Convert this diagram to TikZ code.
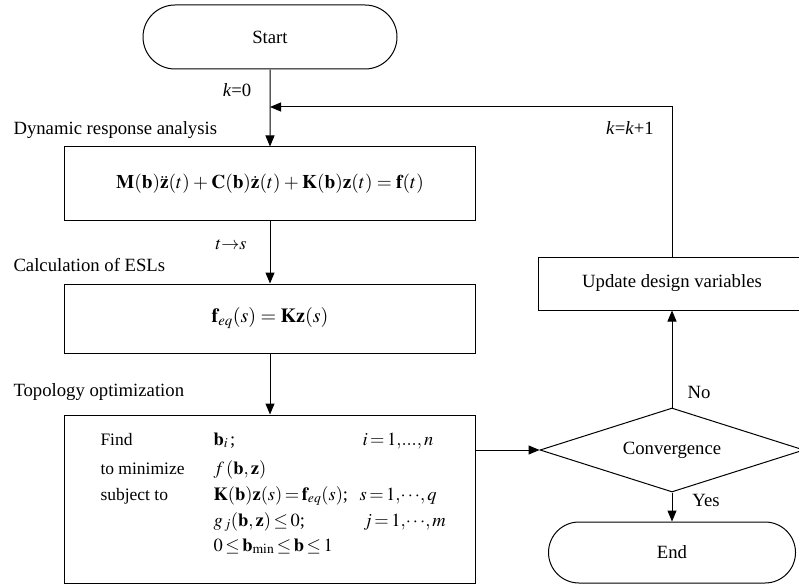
\documentclass[tikz,border=0pt]{standalone}
\usepackage{mathptmx}
\usepackage{fontspec}
\setmainfont{Liberation Serif}
\usetikzlibrary{shapes.misc,shapes.geometric,arrows.meta}
\newcommand\mytightmath{\medmuskip=3mu\relax\thickmuskip=4mu\relax}
\newcommand\mytightermath{\medmuskip=2mu\relax\thickmuskip=2.5mu\relax}
\begin{document}
\begin{tikzpicture}[x=1pt,y=-1pt,
  line width=1pt,
  every node/.style={font=\fontsize{18.7}{22}\selectfont, inner sep=0pt},
  box/.style={draw, rectangle, minimum width=411pt},
  term/.style={draw, rounded rectangle},
  arr/.style={-{Triangle[length=11pt,width=9pt]}},
  celltext/.style={anchor=base west, font=\fontsize{17.5}{21}\selectfont},
  cellmath/.style={anchor=base west, font=\fontsize{18.5}{22}\selectfont\mytightermath},
  side/.style={anchor=west},
]
\useasboundingbox (0,0) rectangle (799,585);
\clip (0,0) rectangle (799,585);

\node[term, minimum width=254pt, minimum height=64pt] (start) at (270,37) {Start};
\node[box, minimum height=73pt, font=\fontsize{19.3}{22}\selectfont\mytightmath] (box1) at (270,183.5)
  {$\mathbf{M}(\mathbf{b})\ddot{\mathbf{z}}(t)+\mathbf{C}(\mathbf{b})\dot{\mathbf{z}}(t)+\mathbf{K}(\mathbf{b})\mathbf{z}(t)=\mathbf{f}(t)$};
\node[box, minimum height=69pt, font=\fontsize{20}{23}\selectfont] (box2) at (270,318.5)
  {$\mathbf{f}_{eq}(s)=\mathbf{K}\mathbf{z}(s)$};
\node[box, minimum height=168pt] (box3) at (270,499) {};

\node[draw, diamond, aspect=3.14, minimum width=264pt, minimum height=84pt] (dia) at (672,450) {Convergence};
\node[draw, rectangle, minimum width=268pt, minimum height=53pt] (upd) at (672,283.5) {Update design variables};
\node[term, minimum width=247pt, minimum height=61pt] (end) at (672,552.5) {End};

% section labels
\node[side] (l1) at (13,130) {Dynamic response analysis};
\node[side] (l2) at (13,265) {Calculation of ESLs};
\node[side] (l3) at (13,392) {Topology optimization};
\node (k0) at (237,90) {\textit{k}=0};
\node[font=\fontsize{18}{20}\selectfont] (ts) at (231,245) {$t{\rightarrow}s$};
\node (kk) at (630,128) {\textit{k}=\textit{k}+1};
\node (no) at (699,392) {No};
\node (yes) at (706,500) {Yes};

% optimization statement
\node[celltext] (r1a) at (100,445) {Find};
\node[cellmath] (r1b) at (213,445) {$\mathbf{b}_i\,$;};
\node[cellmath] (r1c) at (362,445) {$i=1,\!...,n$};
\node[celltext] (r2a) at (100,474) {to minimize};
\node[cellmath] (r2b) at (213,474) {$f\,(\mathbf{b},\mathbf{z})$};
\node[celltext] (r3a) at (100,500) {subject to};
\node[cellmath] (r3b) at (213,500) {$\mathbf{K}(\mathbf{b})\mathbf{z}(s)=\mathbf{f}_{eq}(s)$;};
\node[cellmath] (r3c) at (359,500) {$s=1,\!\cdots\!,q$};
\node[cellmath] (r4b) at (213,526) {$g_{\,j}(\mathbf{b},\mathbf{z})\le 0$;};
\node[cellmath] (r4c) at (363,526) {$j=1,\!\cdots\!,m$};
\node[cellmath] (r5b) at (213,551) {$0\le\mathbf{b}_{\min}\le\mathbf{b}\le 1$};

% connectors
\coordinate (j) at (270,107);
\draw[arr] (start) -- (box1);
\draw[arr] (box1) -- (box2);
\draw[arr] (box2) -- (box3);
\draw[arr] (box3.east |- dia.west) -- (dia.west);
\draw[arr] (dia.south) -- (end.north);
\draw[arr] (dia.north) -- (upd.south);
\draw[arr] (upd.north) |- (j);
\end{tikzpicture}
\end{document}
